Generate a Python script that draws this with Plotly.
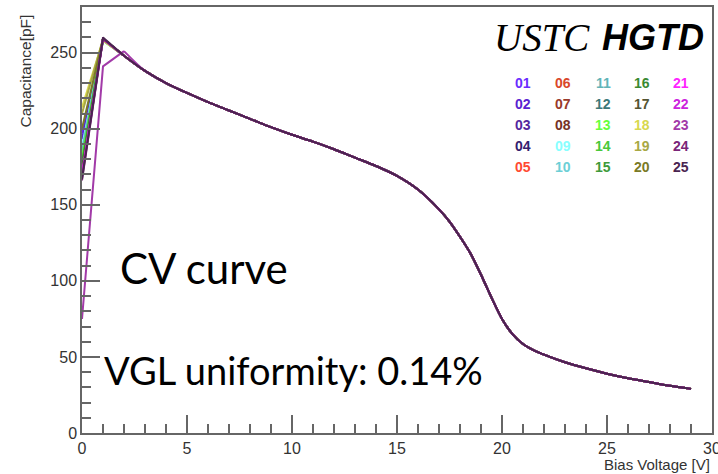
import plotly.graph_objects as go

# ---------------- data ----------------
series_labels = ["01", "02", "03", "04", "05", "06", "07", "08", "09", "10",
                 "11", "12", "13", "14", "15", "16", "17", "18", "19", "20",
                 "21", "22", "23", "24", "25"]
series_colors = ["#6a2cff", "#5a22d0", "#55279e", "#34206e", "#ff4a32",
                 "#d9472a", "#9a3a2a", "#763226", "#88ffff", "#6ccfd6",
                 "#62b4b8", "#3c7878", "#66ff3c", "#48c83a", "#3e9a3a",
                 "#3a8a32", "#545432", "#d8d84e", "#a8a844", "#7a7a26",
                 "#ff22ff", "#cc22dd", "#a23aa8", "#7a2478", "#4a2450"]

# capacitance [pF] at 0 V, 1 V and 2 V for each sensor
cap_0V = [197, 193, 185, 180, 183, 182, 178, 176, 188, 186,
          184, 179, 181, 178, 177, 175, 172, 214, 210, 200,
          170, 169, 75, 166, 167]
cap_1V = [259, 259, 259, 258, 259, 259, 259, 259, 258, 259,
          259, 259, 258, 259, 259, 259, 259, 258, 259, 259,
          259, 259, 241, 259, 260]
cap_2V = [248, 248, 248, 248, 248, 248, 248, 248, 248, 248,
          248, 248, 248, 248, 248, 248, 248, 248, 248, 248,
          248, 248, 251, 248, 248]

# common part of the curve (all sensors overlap from 3 V on)
bias_tail = [3, 4, 5, 6, 7, 8, 9, 10, 11, 12, 13, 14, 15, 16, 17, 17.5,
             18, 18.5, 19, 19.5, 20, 20.5, 21, 21.5, 22, 23, 24, 25, 26,
             27, 28, 29]
cap_tail = [238, 230, 223.5, 217.5, 212, 206.5, 201, 196, 191.5, 186.5,
            181, 175.5, 169, 160, 147, 139, 129, 118, 104, 89, 75, 65,
            58.5, 54.5, 51.5, 46.5, 42.5, 39, 36, 33.5, 31, 29]

y_tickvals = [0, 50, 100, 150, 200, 250]
x_tickvals = [0, 5, 10, 15, 20, 25, 30]

# ---------------- figure ----------------
W, H = 718, 474
L, R, T, B = 82, 6, 7, 41
pw, ph = W - L - R, H - T - B


def px(x):
    return (x - L) / pw


def py(y):
    return (H - B - y) / ph


fig = go.Figure()
for i, lab in enumerate(series_labels):
    col = series_colors[i]
    # rising part: straight segments
    fig.add_trace(go.Scatter(x=[0, 1, 2], y=[cap_0V[i], cap_1V[i], cap_2V[i]],
                             mode="lines", name=lab,
                             line=dict(color=col, width=2),
                             showlegend=False, hoverinfo="skip"))
    # falling part: smooth curve
    fig.add_trace(go.Scatter(x=[2] + bias_tail,
                             y=[cap_2V[i]] + cap_tail,
                             mode="lines", name=lab,
                             line=dict(color=col, width=2, shape="spline",
                                       smoothing=0.8),
                             showlegend=False, hoverinfo="skip"))

axis_common = dict(showline=True, linecolor="#666666", linewidth=1.5,
                   mirror=True, ticks="inside", ticklen=18, tickwidth=1.5,
                   tickcolor="#666666", showgrid=False, zeroline=False,
                   automargin=False, ticklabeloverflow="allow",
                   tickfont=dict(family="Liberation Sans, Arial", size=16,
                                 color="#333333"))

fig.update_xaxes(range=[0, 30], tickvals=x_tickvals,
                 minor=dict(dtick=1, ticks="inside", ticklen=9,
                            tickwidth=1.5, tickcolor="#666666"),
                 **axis_common)
fig.update_yaxes(range=[0, 280], tickvals=y_tickvals,
                 minor=dict(dtick=10, ticks="inside", ticklen=9,
                            tickwidth=1.5, tickcolor="#666666"),
                 **axis_common)

ann = []
# axis titles
ann.append(dict(text="Capacitance[pF]", x=px(25), y=py(13), xref="paper",
                yref="paper", textangle=-90, xanchor="center", yanchor="top",
                showarrow=False,
                font=dict(family="Liberation Sans, Arial", size=15.5,
                          color="#333333")))
ann.append(dict(text="Bias Voltage [V]", x=px(712), y=py(464), xref="paper",
                yref="paper", xanchor="right", yanchor="middle",
                showarrow=False,
                font=dict(family="Liberation Sans, Arial", size=15,
                          color="#333333")))
# labels
ann.append(dict(text="<i>USTC</i>", x=px(492), y=py(37), xref="paper",
                yref="paper", xanchor="left", yanchor="middle",
                showarrow=False,
                font=dict(family="Liberation Serif", size=39, color="black")))
ann.append(dict(text="<b><i>HGTD</i></b>", x=px(706), y=py(37), xref="paper",
                yref="paper", xanchor="right", yanchor="middle",
                showarrow=False,
                font=dict(family="Liberation Sans", size=36, color="black")))
ann.append(dict(text="CV curve", x=px(118), y=py(268), xref="paper",
                yref="paper", xanchor="left", yanchor="middle",
                showarrow=False,
                font=dict(family="Lato", size=42, color="black")))
ann.append(dict(text="VGL uniformity: 0.14%", x=px(102), y=py(370),
                xref="paper", yref="paper", xanchor="left",
                yanchor="middle", showarrow=False,
                font=dict(family="Lato", size=38, color="black")))

col_x = [523, 563, 603, 642, 681]
row_y = [83, 104, 125, 146, 167]
for i, lab in enumerate(series_labels):
    c, r = divmod(i, 5)
    ann.append(dict(text="<b>" + lab + "</b>", x=px(col_x[c]), y=py(row_y[r]),
                    xref="paper", yref="paper", xanchor="center",
                    yanchor="middle", showarrow=False,
                    font=dict(family="Liberation Sans, Arial", size=14,
                              color=series_colors[i])))

fig.update_layout(width=W, height=H, margin=dict(l=L, r=R, t=T, b=B),
                  paper_bgcolor="white", plot_bgcolor="white",
                  annotations=ann)

fig.write_html("out.html", config={"displayModeBar": False})

# remove the browser's default page margin so the chart fills the window
with open("out.html", encoding="utf-8") as f:
    html = f.read()
html = html.replace("<body>", '<body style="margin:0;padding:0;">', 1)
with open("out.html", "w", encoding="utf-8") as f:
    f.write(html)
